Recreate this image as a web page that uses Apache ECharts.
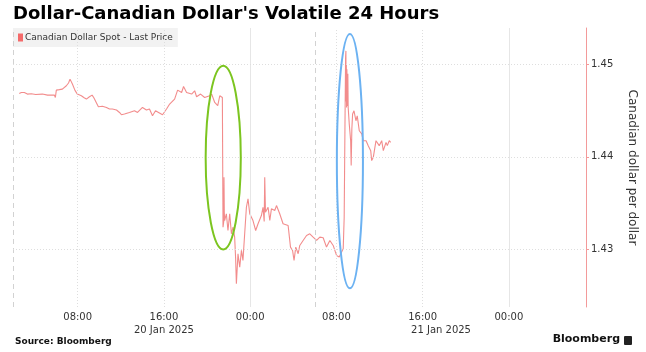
<!DOCTYPE html>
<html>
<head>
<meta charset="utf-8">
<script src="https://cdn.jsdelivr.net/npm/echarts@6/dist/echarts.min.js"></script>
<style>
  html, body { margin: 0; padding: 0; background: #fff; }
  #main { width: 646px; height: 352px; }
</style>
</head>
<body>
<div id="main"></div>
<script>
// hours since 20 Jan 2025 00:00
const hours = [
  2.58, 2.77, 3.05, 3.33, 3.7, 4.1, 4.72, 5.2, 5.83, 5.93, 6.02, 6.3, 6.58, 6.95, 7.15, 7.29, 7.51, 7.75, 7.97,
  8.34, 8.6, 8.81, 9.09, 9.34, 9.5, 9.64, 9.92, 10.3, 10.67, 10.95, 11.22, 11.6, 11.88, 12.06, 12.34, 12.8,
  13.27, 13.55, 14.01, 14.38, 14.66, 14.94, 15.22, 15.5, 15.87, 16.24, 16.53, 16.99, 17.27, 17.64, 17.82,
  18.1, 18.57, 18.85, 19.03, 19.4, 19.78, 19.96, 20.24, 20.43, 20.71, 20.99, 21.18, 21.42, 21.47,
  21.48, 21.55, 21.57, 21.6, 21.63, 21.79, 21.94, 22.1, 22.26, 22.41, 22.56, 22.65, 22.72, 22.87, 23.03,
  23.19, 23.33, 23.49, 23.65, 23.8, 23.96, 24.26, 24.51, 24.73, 25.04, 25.19, 25.3, 25.35, 25.42, 25.51,
  25.66, 25.82, 25.97, 26.28, 26.44, 26.74, 27.05, 27.52, 27.74, 27.93, 28.07, 28.23, 28.45, 28.6, 28.91,
  29.23, 29.53, 29.84, 30.16, 30.46, 30.77, 31.08, 31.39, 31.7, 32.01, 32.26, 32.48, 32.63, 32.72, 32.79,
  32.85, 32.88, 32.9, 32.92, 32.94, 32.97, 33.0, 33.03, 33.06, 33.09, 33.19, 33.32, 33.37, 33.43, 33.5,
  33.63, 33.81, 33.93, 34.12, 34.35, 34.49, 34.75, 34.95, 35.18, 35.27, 35.42, 35.67, 35.79, 35.97, 36.2,
  36.35, 36.6, 36.72, 36.9, 37.03
];
const prices = [
  1.44686, 1.44697, 1.44697, 1.4468, 1.44684, 1.44676, 1.4468, 1.44669, 1.44669, 1.44643, 1.44723, 1.44728, 1.44734, 1.4477, 1.448, 1.44842, 1.4479, 1.4472, 1.4468,
  1.44662, 1.4464, 1.44626, 1.44651, 1.44669, 1.4464, 1.44626, 1.44543, 1.44548, 1.44535, 1.44518, 1.44518, 1.44507, 1.44481, 1.44456, 1.44464, 1.44481,
  1.44499, 1.44481, 1.44535, 1.44507, 1.44518, 1.44445, 1.44499, 1.44481, 1.44456, 1.44518, 1.44572, 1.44626, 1.44723, 1.44697, 1.44762,
  1.44697, 1.4468, 1.44716, 1.44651, 1.4468, 1.44643, 1.44643, 1.44662, 1.4468, 1.44589, 1.44554, 1.44662, 1.44643, 1.44643,
  1.43238, 1.433, 1.43778, 1.434, 1.4331, 1.43383, 1.43202, 1.43383, 1.43166, 1.43238, 1.4313, 1.429, 1.42626, 1.4295, 1.42805,
  1.42986, 1.42878, 1.43166, 1.43454, 1.43545, 1.43383, 1.4331, 1.43202, 1.43275, 1.43364, 1.43454, 1.433, 1.43778, 1.434, 1.43383,
  1.43454, 1.4331, 1.43437, 1.43418, 1.43472, 1.43383, 1.43275, 1.43256, 1.43022, 1.42986, 1.42878, 1.43022, 1.4295, 1.4304, 1.43094,
  1.43148, 1.43166, 1.4313, 1.43094, 1.4313, 1.43123, 1.43022, 1.43094, 1.4304, 1.42932, 1.42914, 1.42968, 1.43004, 1.43346, 1.443,
  1.45076, 1.45148, 1.446, 1.45, 1.44535, 1.4495, 1.44932, 1.4455, 1.449, 1.44535, 1.44356, 1.44175, 1.43905, 1.443, 1.44464,
  1.44499, 1.44391, 1.44445, 1.44283, 1.44248, 1.44175, 1.44175, 1.44121, 1.44067, 1.43959, 1.43995, 1.44175, 1.44194, 1.44121, 1.44175,
  1.44067, 1.44157, 1.44121, 1.44175, 1.44157
];

const timeTicks = [8, 16, 24, 32, 40, 48];
const dateTicks = [16, 41.7];
const dateLabels = ['20 Jan 2025', '21 Jan 2025'];
const priceTicks = [1.43, 1.44, 1.45];
const sessionBreaks = [2, 30];

// highlighted moves: centre hour, half width in hours, top and bottom price
const ringHours = [21.5, 33.25];
const ringHalfWidths = [1.63, 1.21];
const ringTops = [1.44986, 1.45332];
const ringBottoms = [1.42997, 1.42575];
const ringColors = ['#7cc520', '#6cb2f2'];

const chart = echarts.init(document.getElementById('main'));

const xMin = 2, xMax = 55.15;
const font = 'DejaVu Sans';

const gridLines = [];
timeTicks.forEach(h => {
  gridLines.push({
    xAxis: h,
    lineStyle: h % 24 === 0
      ? { color: '#e6e6e6', type: 'solid', width: 1 }
      : { color: '#dedede', type: [1, 2], width: 1 }
  });
});
sessionBreaks.forEach(h => {
  gridLines.push({ xAxis: h, lineStyle: { color: '#d2d2d2', type: [5, 4], width: 1 } });
});
priceTicks.forEach(p => {
  gridLines.push({ yAxis: p, lineStyle: { color: '#dedede', type: [1, 2], width: 1 } });
});

const option = {
  animation: false,
  textStyle: { fontFamily: font },
  title: {
    text: "Dollar-Canadian Dollar's Volatile 24 Hours",
    left: 13,
    top: 5,
    padding: 0,
    textStyle: { fontSize: 18, fontWeight: 'bold', color: '#000', fontFamily: font }
  },
  legend: {
    left: 13,
    top: 28,
    padding: [5, 5, 5, 5],
    backgroundColor: '#f2f2f2',
    icon: 'rect',
    itemWidth: 5,
    itemHeight: 8,
    itemGap: 4,
    textStyle: { fontSize: 9, color: '#333', padding: [0, 0, 0, -3] },
    data: ['Canadian Dollar Spot - Last Price']
  },
  grid: { left: 13, right: 60, top: 28, bottom: 45 },
  xAxis: [
    {
      type: 'value',
      min: xMin,
      max: xMax,
      axisLine: { show: false },
      axisTick: { show: false },
      splitLine: { show: false },
      axisLabel: {
        customValues: timeTicks,
        color: '#333',
        fontSize: 10,
        margin: 5,
        formatter: v => String(v % 24).padStart(2, '0') + ':00'
      }
    },
    {
      type: 'value',
      min: xMin,
      max: xMax,
      position: 'bottom',
      offset: 13,
      axisLine: { show: false },
      axisTick: { show: false },
      splitLine: { show: false },
      axisLabel: {
        customValues: dateTicks,
        color: '#333',
        fontSize: 10,
        margin: 5,
        formatter: v => dateLabels[dateTicks.indexOf(v)]
      }
    }
  ],
  yAxis: {
    type: 'value',
    position: 'right',
    min: 1.42373,
    max: 1.45396,
    name: 'Canadian dollar per dollar',
    nameLocation: 'middle',
    nameRotate: -90,
    nameGap: 40,
    nameTextStyle: { fontSize: 12, color: '#333' },
    axisLine: { show: true, lineStyle: { color: '#f39a9a', width: 1 } },
    axisTick: { show: true, customValues: priceTicks, length: 3, lineStyle: { color: '#f39a9a' } },
    splitLine: { show: false },
    axisLabel: {
      customValues: priceTicks,
      color: '#333',
      fontSize: 10,
      margin: 5,
      formatter: v => v.toFixed(2)
    }
  },
  series: [
    {
      name: 'Canadian Dollar Spot - Last Price',
      type: 'line',
      data: hours.map((h, i) => [h, prices[i]]),
      showSymbol: false,
      symbol: 'none',
      itemStyle: { color: '#f46a6a' },
      lineStyle: { color: '#f07878', width: 1.1, opacity: 0.85 },
      markLine: {
        silent: true,
        symbol: 'none',
        label: { show: false },
        data: gridLines
      },
      z: 3
    }
  ],
  graphic: [
    {
      type: 'text',
      left: 15,
      top: 337,
      style: { text: 'Source: Bloomberg', font: 'bold 9px "DejaVu Sans"', fill: '#111' }
    },
    {
      type: 'text',
      right: 26,
      top: 334,
      style: { text: 'Bloomberg', font: 'bold 11px "DejaVu Sans"', fill: '#111' }
    },
    {
      type: 'rect',
      right: 14,
      top: 336,
      shape: { width: 8, height: 9, r: 1 },
      style: { fill: '#222' }
    }
  ]
};

chart.setOption(option);

const rings = ringHours.map((h, i) => {
  const top = chart.convertToPixel({ gridIndex: 0 }, [h, ringTops[i]]);
  const bottom = chart.convertToPixel({ gridIndex: 0 }, [h, ringBottoms[i]]);
  const side = chart.convertToPixel({ gridIndex: 0 }, [h + ringHalfWidths[i], ringTops[i]]);
  return {
    type: 'ellipse',
    z: 10,
    shape: {
      cx: top[0],
      cy: (top[1] + bottom[1]) / 2,
      rx: side[0] - top[0],
      ry: (bottom[1] - top[1]) / 2
    },
    style: { fill: 'none', stroke: ringColors[i], lineWidth: 2 }
  };
});

chart.setOption({ graphic: option.graphic.concat(rings) });
</script>
</body>
</html>
